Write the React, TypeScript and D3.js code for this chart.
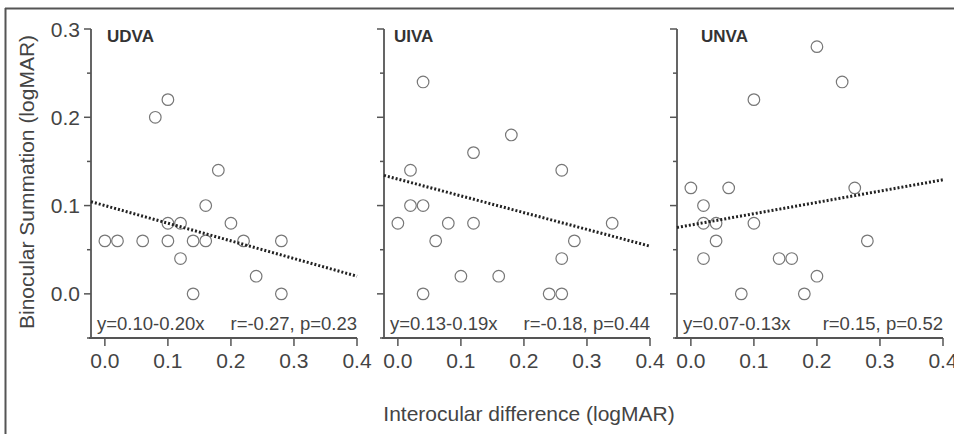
import React from "react";
import * as d3 from "d3";

// panel names and regression text
const panelNames = ["UDVA", "UIVA", "UNVA"];
const equationLabels = ["y=0.10-0.20x", "y=0.13-0.19x", "y=0.07-0.13x"];
const statLabels = ["r=-0.27, p=0.23", "r=-0.18, p=0.44", "r=0.15, p=0.52"];
// fitted line as drawn (intercept, slope)
const intercepts = [0.1, 0.13, 0.078];
const slopes = [-0.2, -0.19, 0.128];

// interocular difference (x) and binocular summation (y), per panel
const udvaX = [0.0, 0.02, 0.06, 0.1, 0.14, 0.16, 0.22, 0.28, 0.1, 0.12, 0.2, 0.16, 0.12, 0.24, 0.14, 0.28, 0.08, 0.1, 0.18];
const udvaY = [0.06, 0.06, 0.06, 0.06, 0.06, 0.06, 0.06, 0.06, 0.08, 0.08, 0.08, 0.1, 0.04, 0.02, 0.0, 0.0, 0.2, 0.22, 0.14];
const uivaX = [0.04, 0.18, 0.12, 0.02, 0.26, 0.02, 0.04, 0.0, 0.08, 0.12, 0.34, 0.06, 0.28, 0.26, 0.1, 0.16, 0.04, 0.24, 0.26];
const uivaY = [0.24, 0.18, 0.16, 0.14, 0.14, 0.1, 0.1, 0.08, 0.08, 0.08, 0.08, 0.06, 0.06, 0.04, 0.02, 0.02, 0.0, 0.0, 0.0];
const unvaX = [0.2, 0.24, 0.1, 0.0, 0.06, 0.26, 0.02, 0.02, 0.04, 0.1, 0.04, 0.28, 0.02, 0.14, 0.16, 0.2, 0.08, 0.18];
const unvaY = [0.28, 0.24, 0.22, 0.12, 0.12, 0.12, 0.1, 0.08, 0.08, 0.08, 0.06, 0.06, 0.04, 0.04, 0.04, 0.02, 0.0, 0.0];

const xTicks = [0.0, 0.1, 0.2, 0.3, 0.4];
const yMajor = [0.0, 0.1, 0.2, 0.3];
const yMinor = [-0.05, 0.05, 0.15, 0.25];

const seriesX = [udvaX, uivaX, unvaX];
const seriesY = [udvaY, uivaY, unvaY];

const W = 954;
const H = 434;
const panelLeft = [91, 384, 677];
const panelW = 266;
const titleDx = [16, 10, 24];
const font = "'Liberation Sans', Arial, Helvetica, sans-serif";
const axisColor = "#555";
const textColor = "#444";

const yScale = d3.scaleLinear().domain([-0.05, 0.3]).range([338, 29]);
const fmt = d3.format(".1f");

function Panel({ i }: { i: number }) {
  const left = panelLeft[i];
  const xScale = d3.scaleLinear().domain([-0.022, 0.4]).range([left, left + panelW]);
  const [x0, x1] = xScale.domain();
  const line = d3
    .line<number>()
    .x((d) => xScale(d))
    .y((d) => yScale(intercepts[i] + slopes[i] * d));
  const yBottom = yScale.range()[0];
  const yTopPx = yScale(0.3);
  return (
    <g>
      {/* y axis */}
      <line x1={left} x2={left} y1={yTopPx} y2={yBottom} stroke={axisColor} strokeWidth={1.8} />
      {yMajor.map((v) => (
        <line key={"ym" + v} x1={left - 7} x2={left} y1={yScale(v)} y2={yScale(v)} stroke={axisColor} strokeWidth={1.5} />
      ))}
      {yMinor.map((v) => (
        <line key={"yn" + v} x1={left - 4} x2={left} y1={yScale(v)} y2={yScale(v)} stroke={axisColor} strokeWidth={1.5} />
      ))}
      {i === 0 &&
        yMajor.map((v) => (
          <text key={"yl" + v} x={left - 11} y={yScale(v)} dy="0.36em" textAnchor="end" fontSize={21} fill={textColor}>
            {fmt(v)}
          </text>
        ))}
      {/* x axis */}
      <line x1={left - 2} x2={xScale(0.4)} y1={yBottom} y2={yBottom} stroke={axisColor} strokeWidth={1.8} />
      {xTicks.map((v) => (
        <g key={"xt" + v}>
          <line x1={xScale(v)} x2={xScale(v)} y1={yBottom} y2={yBottom + 8} stroke={axisColor} strokeWidth={1.5} />
          <text x={xScale(v)} y={368} textAnchor="middle" fontSize={21} fill={textColor}>
            {fmt(v)}
          </text>
        </g>
      ))}
      {/* points */}
      {seriesX[i].map((xv, k) => (
        <circle key={"p" + k} cx={xScale(xv)} cy={yScale(seriesY[i][k])} r={5.8} fill="none" stroke="#777" strokeWidth={1.2} />
      ))}
      {/* regression */}
      <path d={line([x0, x1]) || ""} fill="none" stroke="#222" strokeWidth={3} strokeDasharray="2,2" />
      {/* labels */}
      <text x={left + titleDx[i]} y={42} fontSize={17} fontWeight="bold" fill="#333">
        {panelNames[i]}
      </text>
      <text x={left + 6} y={330} fontSize={18.5} fill={textColor}>
        {equationLabels[i]}
      </text>
      <text x={xScale(0.4)} y={330} textAnchor="end" fontSize={18.5} fill={textColor}>
        {statLabels[i]}
      </text>
    </g>
  );
}

export default function App() {
  return (
    <div style={{ position: "absolute", left: 0, top: 0 }}>
      <svg width={W} height={H} fontFamily={font} style={{ display: "block", background: "#fff" }}>
        <line x1={5} x2={W} y1={8.5} y2={8.5} stroke="#555" strokeWidth={2} />
        <line x1={5.5} x2={5.5} y1={8} y2={H} stroke="#555" strokeWidth={2} />
        {panelNames.map((_, i) => (
          <Panel key={i} i={i} />
        ))}
        <text x={529} y={421} textAnchor="middle" fontSize={21} fill={textColor}>
          Interocular difference (logMAR)
        </text>
        <text transform="translate(34,182) rotate(-90)" textAnchor="middle" fontSize={21} fill={textColor}>
          Binocular Summation (logMAR)
        </text>
      </svg>
    </div>
  );
}
